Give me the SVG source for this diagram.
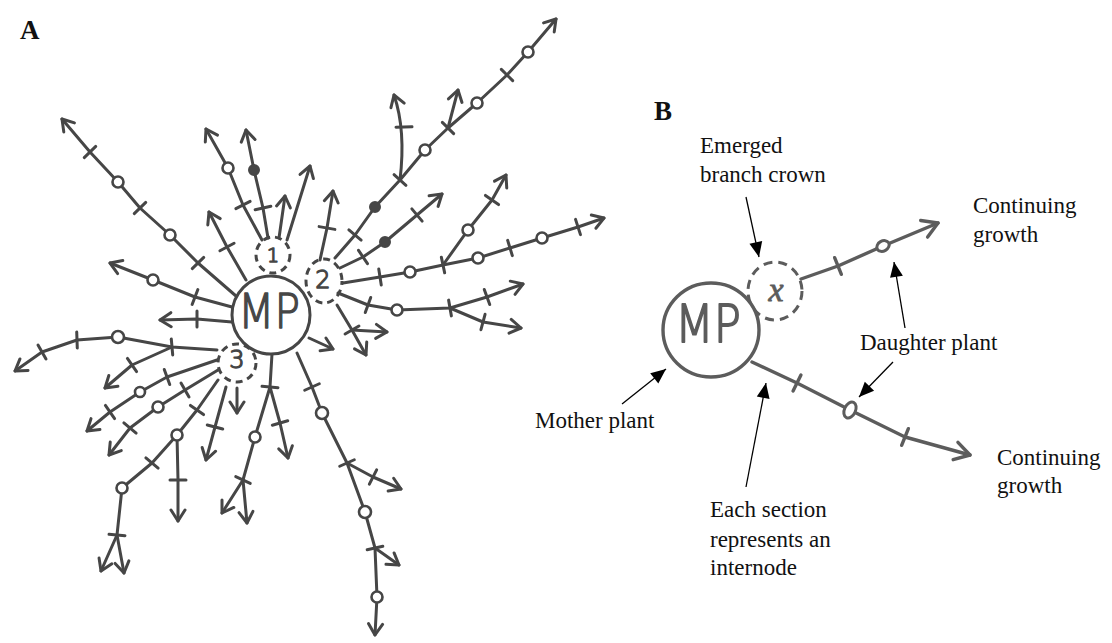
<svg xmlns="http://www.w3.org/2000/svg" xmlns:xlink="http://www.w3.org/1999/xlink" width="1112" height="643" viewBox="0 0 1112 643">
  <style>
    .br { fill: none; stroke: #464646; stroke-width: 3; stroke-linecap: round; stroke-linejoin: round; marker-end: url(#va); }
    .st { fill: none; stroke: #464646; stroke-width: 3; stroke-linecap: round; stroke-linejoin: round; }
    .tk { stroke: #464646; stroke-width: 3; stroke-linecap: round; }
    .on { fill: #fff; stroke: #464646; stroke-width: 2.6; }
    .fd { fill: #464646; stroke: #464646; stroke-width: 2; }
    .hand { font-family: "DejaVu Sans", sans-serif; font-weight: 200; fill: #464646; stroke: #464646; stroke-width: 1.4; stroke-linejoin: round; }
    .ring { fill: #fff; stroke: #464646; stroke-width: 3; }
    .dash { fill: none; stroke: #464646; stroke-width: 3; stroke-dasharray: 7 5; }
    .bl { fill: none; stroke: #5c5c5c; stroke-width: 3.4; stroke-linecap: round; stroke-linejoin: round; }
    .btk { stroke: #5c5c5c; stroke-width: 3.4; stroke-linecap: round; }
    .lbl { font-family: "Liberation Serif", "Times New Roman", serif; font-size: 23px; fill: #111; }
    .pl { font-family: "Liberation Serif", "Times New Roman", serif; font-size: 27px; font-weight: bold; fill: #111; }
    .ld { stroke: #000; stroke-width: 1.3; fill: none; marker-end: url(#tri); }
  </style>
  <defs>
    <marker id="va" viewBox="-14 -10 16 20" refX="0" refY="0" markerWidth="16" markerHeight="20" orient="auto" markerUnits="userSpaceOnUse">
      <path d="M-11,-7 L0,0 L-11,7" fill="none" stroke="#464646" stroke-width="3" stroke-linecap="round" stroke-linejoin="round"/>
    </marker>
    <marker id="vb" viewBox="-20 -12 22 24" refX="0" refY="0" markerWidth="22" markerHeight="24" orient="auto" markerUnits="userSpaceOnUse">
      <path d="M-15,-9 L0,0 L-15,9" fill="none" stroke="#5c5c5c" stroke-width="3.4" stroke-linecap="round" stroke-linejoin="round"/>
    </marker>
    <marker id="tri" viewBox="-16 -8 18 16" refX="0" refY="0" markerWidth="18" markerHeight="16" orient="auto" markerUnits="userSpaceOnUse">
      <path d="M0,0 L-15,-6.5 L-15,6.5 Z" fill="#000"/>
    </marker>
    <line id="tk" class="tk" x1="0" y1="-8" x2="0" y2="8"/>
    <line id="btk" class="btk" x1="0" y1="-9" x2="0" y2="9"/>
  </defs>

  <rect width="1112" height="643" fill="#fff"/>

  <!-- panel letters -->
  <text class="pl" x="20" y="39">A</text>
  <text class="pl" x="654" y="120">B</text>

  <!-- ===== Panel A: runner network ===== -->
  <g id="runners-a">
    <!-- from the mother plant -->
    <path class="br" d="M236,296 L198,263 L170,235 L140,208 L118,182 L90,152 L62,119"/>
    <path class="br" d="M232,307 L195,297 L153,280 L110,263"/>
    <path class="br" d="M232,322 L197,319 L160,320"/>
    <path class="br" d="M246,280 L227,247 L209,212"/>
    <path class="br" d="M309,338 L333,349"/>
    <path class="st" d="M272,354 L270,387"/>
    <path class="br" d="M270,387 L255,437 L243,480 L222,513"/>
    <path class="br" d="M243,480 L247,523"/>
    <path class="br" d="M270,387 L280,423 L288,458"/>
    <path class="br" d="M297,353 L312,387 L322,413 L347,463 L365,512 L375,548 L377,597 L375,635"/>
    <path class="br" d="M347,463 L373,477 L401,489"/>
    <path class="br" d="M375,548 L399,565"/>
    <!-- from branch crown 1 -->
    <path class="br" d="M262,240 L243,205 L228,168 L206,129"/>
    <path class="br" d="M268,238 L263,208 L254,170 L246,130"/>
    <path class="br" d="M279,238 L285,196"/>
    <path class="br" d="M287,240 L310,166"/>
    <!-- from branch crown 2 -->
    <path class="br" d="M320,260 L327,228 L333,191"/>
    <path class="br" d="M335,258 L355,235 L375,207 L400,180 L425,150 L448,128 L477,103 L507,75 L528,52 L556,19"/>
    <path class="br" d="M400,180 Q406,130 394,95"/>
    <path class="br" d="M448,128 L458,90"/>
    <path class="br" d="M340,268 L363,257 L385,242 L417,215 L442,194"/>
    <path class="br" d="M343,283 L380,277 L410,272 L443,265 L478,258 L510,248 L542,238 L578,227 L604,218"/>
    <path class="br" d="M443,265 L468,230 L492,200 L506,175"/>
    <path class="br" d="M338,293 L368,305 L397,310 L450,308 L487,297 L523,284"/>
    <path class="br" d="M450,308 L483,322 L521,328"/>
    <path class="br" d="M337,305 L352,330 L366,355"/>
    <path class="br" d="M352,330 L387,332"/>
    <!-- from branch crown 3 -->
    <path class="br" d="M217,350 L172,347 L118,337 L77,340 L42,352 L15,371"/>
    <path class="br" d="M172,347 L132,365 L105,388"/>
    <path class="br" d="M217,360 L167,377 L140,392 L110,412 L87,431"/>
    <path class="br" d="M218,370 L185,390 L158,407 L130,428 L109,455"/>
    <path class="br" d="M218,380 L197,410 L177,435 L152,463 L122,488 L117,535 L101,571"/>
    <path class="br" d="M117,535 L124,573"/>
    <path class="br" d="M177,435 L178,480 L178,521"/>
    <path class="br" d="M226,387 L215,427 L206,460"/>
    <path class="br" d="M237,388 L237,413"/>

    <!-- internode marks -->
    <use href="#tk" transform="translate(198,263) rotate(-134)"/>
    <use href="#tk" transform="translate(140,208) rotate(-134)"/>
    <use href="#tk" transform="translate(90,152) rotate(-134)"/>
    <use href="#tk" transform="translate(195,297) rotate(-159)"/>
    <use href="#tk" transform="translate(197,319) rotate(180)"/>
    <use href="#tk" transform="translate(227,247) rotate(-118)"/>
    <use href="#tk" transform="translate(243,205) rotate(-117)"/>
    <use href="#tk" transform="translate(263,208) rotate(-102)"/>
    <use href="#tk" transform="translate(327,228) rotate(-80)"/>
    <use href="#tk" transform="translate(355,235) rotate(-50)"/>
    <use href="#tk" transform="translate(400,180) rotate(-48)"/>
    <use href="#tk" transform="translate(448,128) rotate(-45)"/>
    <use href="#tk" transform="translate(507,75) rotate(-45)"/>
    <use href="#tk" transform="translate(404,127) rotate(-92)"/>
    <use href="#tk" transform="translate(363,257) rotate(-34)"/>
    <use href="#tk" transform="translate(417,215) rotate(-40)"/>
    <use href="#tk" transform="translate(380,277) rotate(-9)"/>
    <use href="#tk" transform="translate(443,265) rotate(-12)"/>
    <use href="#tk" transform="translate(510,248) rotate(-17)"/>
    <use href="#tk" transform="translate(578,227) rotate(-18)"/>
    <use href="#tk" transform="translate(492,200) rotate(-55)"/>
    <use href="#tk" transform="translate(368,305) rotate(20)"/>
    <use href="#tk" transform="translate(450,308) rotate(-10)"/>
    <use href="#tk" transform="translate(487,297) rotate(-20)"/>
    <use href="#tk" transform="translate(483,322) rotate(15)"/>
    <use href="#tk" transform="translate(352,330) rotate(60)"/>
    <use href="#tk" transform="translate(270,387) rotate(95)"/>
    <use href="#tk" transform="translate(243,480) rotate(115)"/>
    <use href="#tk" transform="translate(280,423) rotate(74)"/>
    <use href="#tk" transform="translate(312,387) rotate(66)"/>
    <use href="#tk" transform="translate(347,463) rotate(66)"/>
    <use href="#tk" transform="translate(375,548) rotate(78)"/>
    <use href="#tk" transform="translate(373,477) rotate(27)"/>
    <use href="#tk" transform="translate(172,347) rotate(175)"/>
    <use href="#tk" transform="translate(77,340) rotate(178)"/>
    <use href="#tk" transform="translate(42,352) rotate(150)"/>
    <use href="#tk" transform="translate(132,365) rotate(145)"/>
    <use href="#tk" transform="translate(167,377) rotate(160)"/>
    <use href="#tk" transform="translate(110,412) rotate(145)"/>
    <use href="#tk" transform="translate(185,390) rotate(150)"/>
    <use href="#tk" transform="translate(130,428) rotate(130)"/>
    <use href="#tk" transform="translate(197,410) rotate(125)"/>
    <use href="#tk" transform="translate(152,463) rotate(130)"/>
    <use href="#tk" transform="translate(117,535) rotate(95)"/>
    <use href="#tk" transform="translate(178,480) rotate(90)"/>
    <use href="#tk" transform="translate(215,427) rotate(105)"/>

    <!-- daughter plants (open) -->
    <circle class="on" cx="170" cy="235" r="5.5"/>
    <circle class="on" cx="118" cy="182" r="5.5"/>
    <circle class="on" cx="153" cy="280" r="5.5"/>
    <circle class="on" cx="228" cy="168" r="5.5"/>
    <circle class="on" cx="425" cy="150" r="5.5"/>
    <circle class="on" cx="477" cy="103" r="5.5"/>
    <circle class="on" cx="528" cy="52" r="5.5"/>
    <circle class="on" cx="410" cy="272" r="5.5"/>
    <circle class="on" cx="478" cy="258" r="5.5"/>
    <circle class="on" cx="542" cy="238" r="5.5"/>
    <circle class="on" cx="468" cy="230" r="5.5"/>
    <circle class="on" cx="397" cy="310" r="5.5"/>
    <circle class="on" cx="255" cy="437" r="5.5"/>
    <circle class="on" cx="322" cy="413" r="6"/>
    <circle class="on" cx="365" cy="512" r="6"/>
    <circle class="on" cx="377" cy="597" r="5.5"/>
    <circle class="on" cx="118" cy="337" r="6"/>
    <circle class="on" cx="140" cy="392" r="5"/>
    <circle class="on" cx="158" cy="407" r="5.5"/>
    <circle class="on" cx="177" cy="435" r="5.5"/>
    <circle class="on" cx="122" cy="488" r="5.5"/>
    <!-- daughter plants (filled) -->
    <circle class="fd" cx="254" cy="170" r="5"/>
    <circle class="fd" cx="375" cy="207" r="5"/>
    <circle class="fd" cx="385" cy="242" r="5"/>
  </g>

  <g id="crown-1">
    <ellipse class="dash" cx="273" cy="255" rx="17" ry="18"/>
    <text class="hand" x="273" y="262" font-size="19" text-anchor="middle">1</text>
  </g>
  <g id="crown-2">
    <ellipse class="dash" cx="324" cy="281" rx="18" ry="22" stroke-dashoffset="3"/>
    <text class="hand" x="323" y="288" font-size="24" text-anchor="middle">2</text>
  </g>
  <g id="crown-3">
    <ellipse class="dash" cx="237" cy="363" rx="19" ry="19"/>
    <text class="hand" x="237" y="368" font-size="24" text-anchor="middle">3</text>
  </g>
  <g id="mother-a">
    <circle class="ring" cx="271" cy="315" r="39"/>
    <text class="hand" x="238" y="328" font-size="48" textLength="62" lengthAdjust="spacingAndGlyphs">MP</text>
  </g>

  <!-- ===== Panel B: key ===== -->
  <g id="runners-b">
    <path class="bl" d="M801,279 L838,266 L883,246 L938,223" marker-end="url(#vb)"/>
    <path class="bl" d="M752,362 L797,383 L850,410 L905,437 L970,455" marker-end="url(#vb)"/>
    <use href="#btk" transform="translate(838,266) rotate(-22)"/>
    <use href="#btk" transform="translate(797,383) rotate(26)"/>
    <use href="#btk" transform="translate(905,437) rotate(22)"/>
    <ellipse cx="883" cy="246" rx="6.5" ry="5" transform="rotate(-30 883 246)" fill="#fff" stroke="#5c5c5c" stroke-width="3"/>
    <ellipse cx="850" cy="410" rx="5.5" ry="8.5" transform="rotate(25 850 410)" fill="#fff" stroke="#5c5c5c" stroke-width="3"/>
  </g>
  <g id="crown-x">
    <ellipse cx="775" cy="291" rx="27" ry="29" fill="none" stroke="#5c5c5c" stroke-width="3" stroke-dasharray="9 6"/>
    <text x="776" y="301" font-family="Liberation Serif, serif" font-style="italic" font-size="34" fill="#5c5c5c" stroke="#5c5c5c" stroke-width="0.8" text-anchor="middle">x</text>
  </g>
  <g id="mother-b">
    <ellipse cx="711" cy="330" rx="48" ry="47" fill="#fff" stroke="#5c5c5c" stroke-width="3.4"/>
    <text class="hand" x="675" y="342" font-size="52" textLength="66" lengthAdjust="spacingAndGlyphs" style="fill:#5c5c5c;stroke:#5c5c5c;stroke-width:1.8">MP</text>
  </g>

  <!-- labels and leaders -->
  <g id="labels-b">
    <text class="lbl" x="700" y="153">Emerged</text>
    <text class="lbl" x="700" y="182">branch crown</text>
    <text class="lbl" x="973" y="213">Continuing</text>
    <text class="lbl" x="973" y="242">growth</text>
    <text class="lbl" x="860" y="350">Daughter plant</text>
    <text class="lbl" x="535" y="428">Mother plant</text>
    <text class="lbl" x="710" y="517">Each section</text>
    <text class="lbl" x="710" y="547">represents an</text>
    <text class="lbl" x="710" y="575">internode</text>
    <text class="lbl" x="997" y="465">Continuing</text>
    <text class="lbl" x="997" y="493">growth</text>
  </g>
  <g id="leaders-b">
    <path class="ld" d="M746,197 L759,257"/>
    <path class="ld" d="M905,328 L894,262"/>
    <path class="ld" d="M893,362 L859,397"/>
    <path class="ld" d="M622,404 L666,369"/>
    <path class="ld" d="M746,487 L766,383"/>
  </g>
</svg>
